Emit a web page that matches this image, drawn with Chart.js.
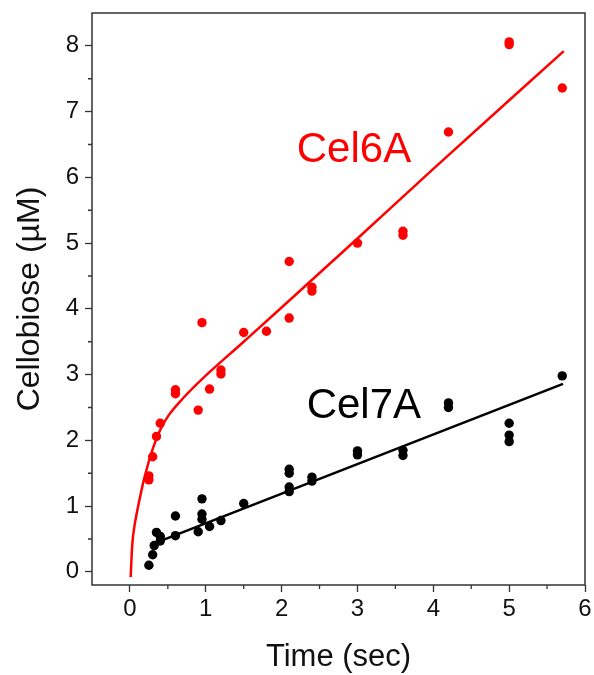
<!DOCTYPE html>
<html>
<head>
<meta charset="utf-8">
<script src="https://cdn.jsdelivr.net/npm/chart.js@4/dist/chart.umd.min.js"></script>
<style>
html,body{margin:0;padding:0;background:#fff;}
#wrap{width:594px;height:675px;position:relative;}
</style>
</head>
<body>
<div id="wrap"><canvas id="c" width="594" height="675"></canvas></div>
<script>
// Cel6A measured points (time s, cellobiose µM)
const cel6aTime = [0.25,0.25,0.3,0.35,0.4,0.6,0.6,0.9,0.95,1.05,1.2,1.2,1.5,1.8,2.1,2.1,2.4,2.4,3.0,3.6,3.6,4.2,5.0,5.0,5.7];
const cel6aVal  = [1.40,1.46,1.75,2.06,2.26,2.71,2.77,2.46,3.79,2.78,3.01,3.07,3.64,3.66,4.72,3.86,4.27,4.33,5.00,5.12,5.18,6.69,8.02,8.06,7.36];
// Cel7A measured points
const cel7aTime = [0.25,0.3,0.32,0.35,0.4,0.4,0.6,0.6,0.9,0.95,0.95,0.95,1.05,1.2,1.5,2.1,2.1,2.1,2.1,2.4,2.4,3.0,3.0,3.6,3.6,4.2,4.2,5.0,5.0,5.0,5.7];
const cel7aVal  = [0.10,0.26,0.40,0.60,0.54,0.47,0.85,0.55,0.61,1.11,0.88,0.80,0.69,0.78,1.04,1.50,1.56,1.22,1.29,1.38,1.44,1.78,1.84,1.77,1.85,2.50,2.57,2.26,2.08,1.98,2.98];
// fitted curve for Cel6A
const fit6Time = [0.01,0.03,0.06,0.09,0.13,0.18,0.24,0.31,0.40,0.51,0.70,0.94,1.5,2.0,3.0,4.0,5.72];
const fit6Val  = [-0.08,0.40,0.70,0.89,1.12,1.38,1.64,1.90,2.16,2.38,2.64,2.92,3.50,4.02,5.07,6.13,7.92];
// fitted line for Cel7A
const fit7Time = [0.27,5.71];
const fit7Val  = [0.41,2.86];
// axes ticks
const xTicks = [0,1,2,3,4,5,6];
const yTicks = [0,1,2,3,4,5,6,7,8];
const xMinor = [0.5,1.5,2.5,3.5,4.5,5.5];
const yMinor = [0.5,1.5,2.5,3.5,4.5,5.5,6.5,7.5];

const zip = (a,b) => a.map((v,i)=>({x:v,y:b[i]}));
const RED = '#ff0000';
const FONT = '"Liberation Sans", Arial, sans-serif';

const decor = {
  id:'decor',
  afterDraw(chart){
    const ctx = chart.ctx, a = chart.chartArea;
    const xs = chart.scales.x, ys = chart.scales.y;
    ctx.save();
    ctx.strokeStyle = '#333';
    ctx.lineWidth = 1.5;
    ctx.strokeRect(a.left, a.top, a.right-a.left, a.bottom-a.top);
    ctx.lineWidth = 1.3;
    ctx.beginPath();
    xMinor.forEach(v=>{const p=xs.getPixelForValue(v); ctx.moveTo(p,a.bottom); ctx.lineTo(p,a.bottom+4);});
    yMinor.forEach(v=>{const p=ys.getPixelForValue(v); ctx.moveTo(a.left,p); ctx.lineTo(a.left-4,p);});
    ctx.stroke();
    ctx.font = '42px ' + FONT;
    ctx.textBaseline = 'middle';
    ctx.textAlign = 'left';
    ctx.fillStyle = RED;
    ctx.fillText('Cel6A', xs.getPixelForValue(2.2), ys.getPixelForValue(6.41));
    ctx.fillStyle = '#000';
    ctx.fillText('Cel7A', xs.getPixelForValue(2.33), ys.getPixelForValue(2.52));
    ctx.restore();
  }
};

new Chart(document.getElementById('c'), {
  type:'scatter',
  data:{datasets:[
    {data:zip(fit6Time,fit6Val), showLine:true, borderColor:RED, borderWidth:2.5, pointRadius:0, cubicInterpolationMode:'monotone', fill:false, order:2},
    {data:zip(fit7Time,fit7Val), showLine:true, borderColor:'#000', borderWidth:2.5, pointRadius:0, fill:false, order:2},
    {data:zip(cel6aTime,cel6aVal), backgroundColor:RED, borderColor:RED, borderWidth:0, pointRadius:4.7, order:1},
    {data:zip(cel7aTime,cel7aVal), backgroundColor:'#000', borderColor:'#000', borderWidth:0, pointRadius:4.7, order:1}
  ]},
  options:{
    responsive:false, animation:false, devicePixelRatio:1,
    layout:{padding:{left:0,right:9,top:13,bottom:0}},
    plugins:{legend:{display:false}, tooltip:{enabled:false}},
    scales:{
      x:{
        type:'linear', min:-0.5, max:6,
        afterBuildTicks(s){ s.ticks = xTicks.map(v=>({value:v})); },
        afterFit(s){ s.height = 90; s.paddingLeft = 0; s.paddingRight = 0; },
        border:{display:false},
        grid:{drawOnChartArea:false, drawTicks:true, tickLength:7, tickColor:'#333', tickWidth:1.3},
        ticks:{color:'#111', font:{family:FONT, size:24}, padding:3, maxRotation:0, autoSkip:false},
        title:{display:true, text:'Time (sec)', color:'#111', font:{family:FONT, size:31, lineHeight:1.0}, padding:{top:0,bottom:2}}
      },
      y:{
        type:'linear', min:-0.2, max:8.5,
        afterBuildTicks(s){ s.ticks = yTicks.map(v=>({value:v})); },
        afterFit(s){ s.width = 92; s.paddingTop = 0; s.paddingBottom = 0; },
        border:{display:false},
        grid:{drawOnChartArea:false, drawTicks:true, tickLength:7, tickColor:'#333', tickWidth:1.3},
        ticks:{color:'#111', font:{family:FONT, size:24}, padding:6, autoSkip:false},
        title:{display:true, text:'Cellobiose (µM)', color:'#111', font:{family:FONT, size:32, lineHeight:1.0}, padding:{top:14,bottom:0}}
      }
    }
  },
  plugins:[decor]
});
</script>
</body>
</html>
